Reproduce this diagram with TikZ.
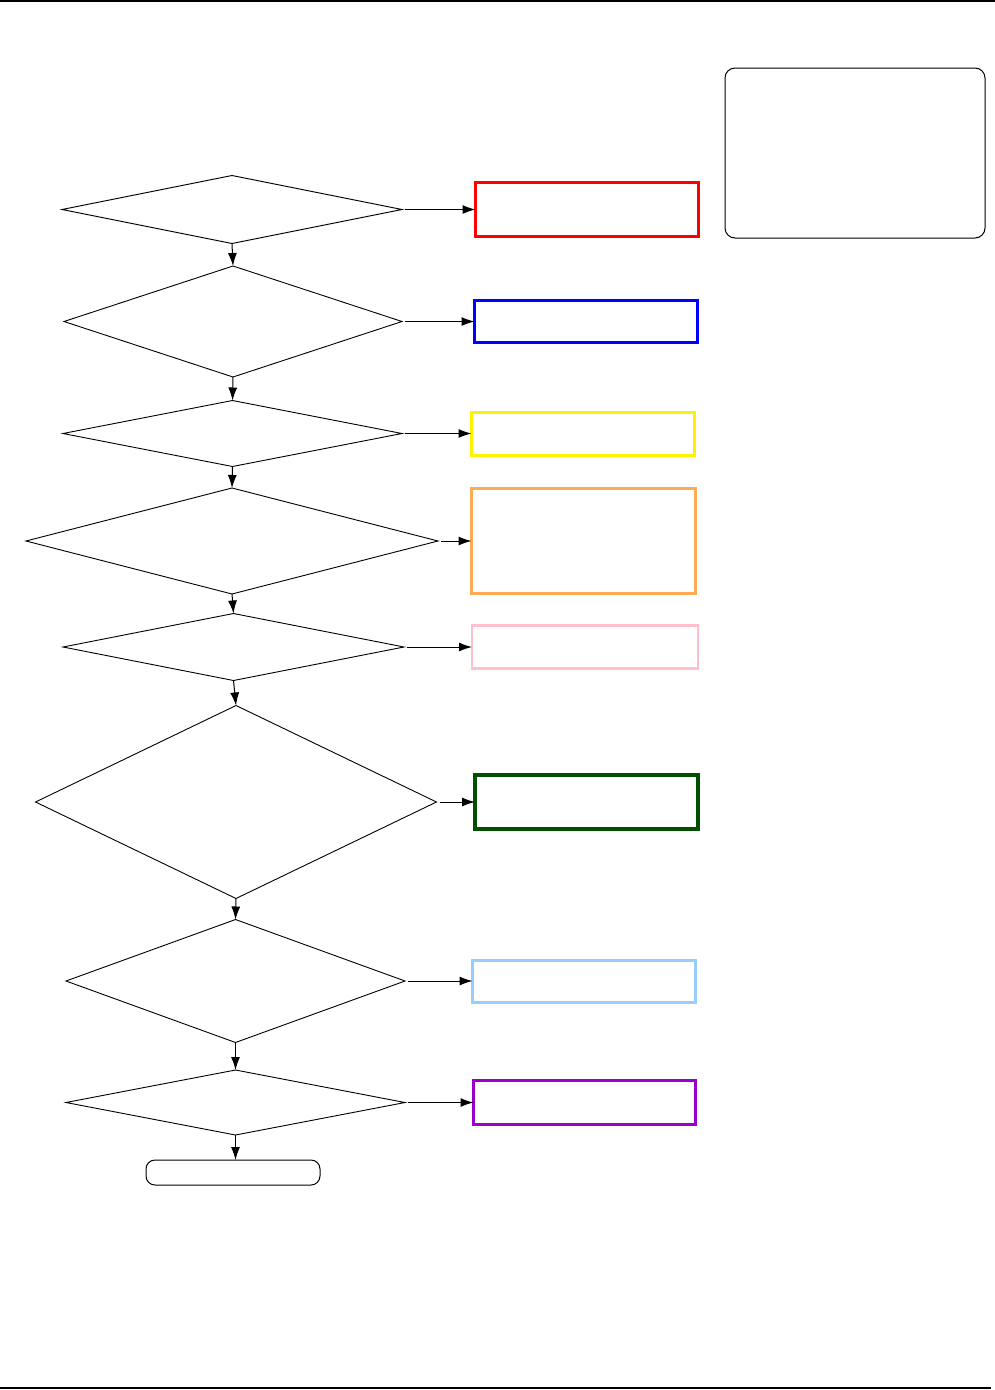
\documentclass[tikz,border=0pt]{standalone}
\usepackage{tikz}
\usetikzlibrary{arrows.meta}
\usetikzlibrary{shapes.geometric}

\definecolor{boxorange}{RGB}{255,170,85}
\definecolor{boxpink}{RGB}{255,192,203}
\definecolor{boxgreen}{RGB}{0,80,0}
\definecolor{boxsky}{RGB}{153,204,255}
\definecolor{boxpurple}{RGB}{153,0,204}

\tikzset{
    decision/.style={diamond, draw, line width=0.9pt, inner sep=0pt, outer sep=0pt},
    result/.style={rectangle, draw, line width=3pt, inner sep=0pt, outer sep=0pt},
    flow/.style={-{Latex[length=13pt,width=9pt]}, line width=1pt},
}

\begin{document}
\begin{tikzpicture}[x=1pt,y=-1pt]
        \useasboundingbox (0,0) rectangle (995,1390);
        \draw[line width=1.5pt] (0,1) -- (995,1); % page rules
        \draw[line width=1.5pt] (0,1388) -- (991,1388);
        % decisions
        \node[decision, minimum width=340pt, minimum height=68pt] (d1) at (232,209.5) {};
        \node[decision, minimum width=338pt, minimum height=111pt] (d2) at (233,321.5) {};
        \node[decision, minimum width=339pt, minimum height=66pt] (d3) at (232.5,433.5) {};
        \node[decision, minimum width=412pt, minimum height=106pt] (d4) at (232,541) {};
        \node[decision, minimum width=341pt, minimum height=67pt] (d5) at (233.5,647) {};
        \node[decision, minimum width=401pt, minimum height=193pt] (d6) at (236,802) {};
        \node[decision, minimum width=339pt, minimum height=123pt] (d7) at (235.5,981) {};
        \node[decision, minimum width=339pt, minimum height=65pt] (d8) at (235.5,1102.5) {};
        \node[draw, line width=1pt, rounded corners=9pt, minimum width=174pt, minimum height=25pt, inner sep=0pt, outer sep=0pt] (stop) at (233,1172.5) {};
        % results
        \node[result, draw=red, line width=3.5pt, minimum width=223pt, minimum height=54pt] (r1) at (587,209.5) {};
        \node[result, draw=blue, minimum width=223pt, minimum height=42pt] (r2) at (586,321.5) {};
        \node[result, draw=yellow, minimum width=223pt, minimum height=43pt] (r3) at (583,433.5) {};
        \node[result, draw=boxorange, minimum width=224pt, minimum height=105pt] (r4) at (583.5,541) {};
        \node[result, draw=boxpink, line width=2.5pt, minimum width=226pt, minimum height=43pt] (r5) at (585,647) {};
        \node[result, draw=boxgreen, line width=4pt, minimum width=223pt, minimum height=54pt] (r6) at (586.5,802) {};
        \node[result, draw=boxsky, minimum width=223pt, minimum height=42pt] (r7) at (584,981) {};
        \node[result, draw=boxpurple, minimum width=222pt, minimum height=44pt] (r8) at (584.5,1102.5) {};
        % note
        \node[draw, line width=1pt, rounded corners=10pt, minimum width=260pt, minimum height=170pt, inner sep=0pt] (note) at (855,153) {};
        % connectors
        \foreach \a/\b in {d1/d2,d2/d3,d3/d4,d4/d5,d5/d6,d6/d7,d7/d8}
        \draw[flow] (\a.south) -- (\b.north);
        \draw[flow] (d8.south) -- (d8.south |- stop.north);
        \foreach \n in {1,...,8}
        \draw[flow, shorten <=3pt] (d\n.east) -- (r\n.west);
    \end{tikzpicture}
\end{document}
